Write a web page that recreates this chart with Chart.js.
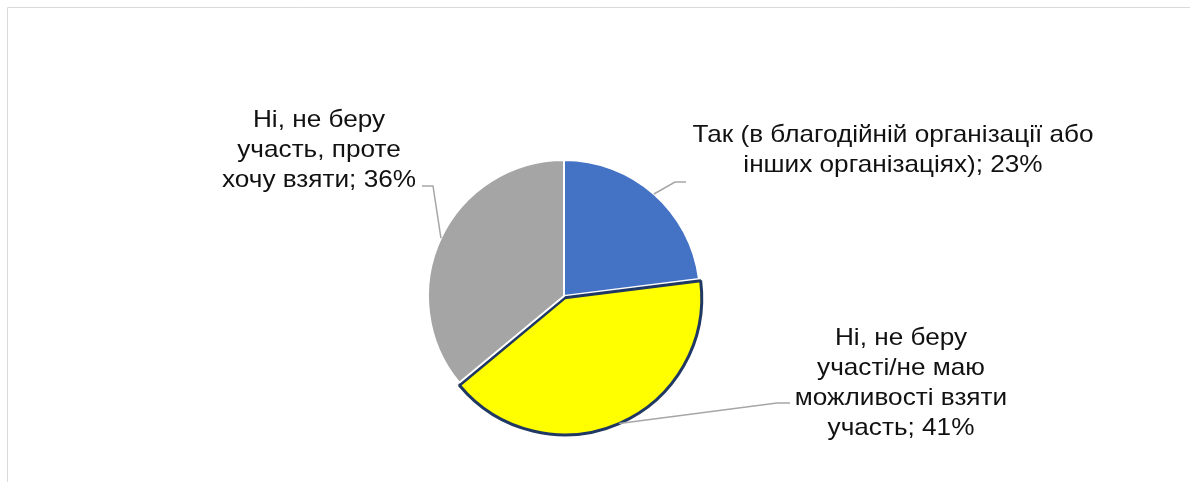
<!DOCTYPE html>
<html>
<head>
<meta charset="utf-8">
<script src="https://cdn.jsdelivr.net/npm/chart.js@4/dist/chart.umd.min.js"></script>
<style>
  html, body { margin: 0; padding: 0; background: #ffffff; }
  #wrap { position: relative; width: 1190px; height: 482px; }
</style>
</head>
<body>
<div id="wrap"><canvas id="chart" width="1190" height="482"></canvas></div>
<script>
// Survey answers: participation in volunteer / charity work
const categories = [
  'Так (в благодійній організації або інших організаціях)',
  'Ні, не беру участі/не маю можливості взяти участь',
  'Ні, не беру участь, проте хочу взяти'
];
const shares = [23, 41, 36];
const sliceColors = ['#4472C4', '#FFFF00', '#A5A5A5'];
const sliceBorders = ['#FFFFFF', '#1F3864', '#FFFFFF'];

const FONT = '24px "Liberation Sans", Arial, sans-serif';
const TEXT_STRETCH = 1.09;   // labels are set slightly wide
const LINE_H = 30;

// Per-slice callout layout, relative to the pie centre:
// elbow / end of the leader line, text centre x, first baseline, wrap width.
const callouts = [
  { elbow: [111, -114], end: [122, -114], tx: 329, ty: -154, wrap: 420 },
  { elbow: [213, 107],  end: [226, 107],  tx: 337, ty: 49,   wrap: 225 },
  { elbow: [-131, -110], end: [-142, -110], tx: -245, ty: -169, wrap: 205 }
];

function wrapText(ctx, text, width) {
  const words = text.split(' ');
  const lines = [];
  let cur = '';
  for (const w of words) {
    const test = cur ? cur + ' ' + w : w;
    if (cur && ctx.measureText(test).width * TEXT_STRETCH > width) {
      lines.push(cur);
      cur = w;
    } else {
      cur = test;
    }
  }
  if (cur) lines.push(cur);
  return lines;
}

const frame = {
  id: 'frame',
  beforeDraw(chart) {
    const ctx = chart.ctx;
    ctx.save();
    ctx.strokeStyle = '#D9D9D9';
    ctx.lineWidth = 1;
    ctx.beginPath();
    ctx.moveTo(7.5, 482);
    ctx.lineTo(7.5, 7.5);
    ctx.lineTo(1190, 7.5);
    ctx.stroke();
    ctx.restore();
  }
};

const calloutLabels = {
  id: 'calloutLabels',
  afterDatasetsDraw(chart) {
    const ctx = chart.ctx;
    const meta = chart.getDatasetMeta(0);
    ctx.save();
    ctx.font = FONT;
    meta.data.forEach((arc, i) => {
      const c = callouts[i];
      const { x, y, startAngle, endAngle, outerRadius } = arc.getProps(['x', 'y', 'startAngle', 'endAngle', 'outerRadius'], true);
      const mid = (startAngle + endAngle) / 2;
      // Exploded slices are shifted along their bisector (same rule Chart.js uses)
      const off = (arc.options.offset || 0) / 4;
      const fix = 1 - Math.sin(Math.min(Math.PI, endAngle - startAngle));
      const shift = off + off * fix;
      const ax = x + Math.cos(mid) * (outerRadius + shift);
      const ay = y + Math.sin(mid) * (outerRadius + shift);

      ctx.strokeStyle = '#A6A6A6';
      ctx.lineWidth = 1.5;
      ctx.beginPath();
      ctx.moveTo(ax, ay);
      ctx.lineTo(x + c.elbow[0], y + c.elbow[1]);
      ctx.lineTo(x + c.end[0], y + c.end[1]);
      ctx.stroke();

      const text = categories[i] + '; ' + shares[i] + '%';
      const lines = wrapText(ctx, text, c.wrap);
      ctx.fillStyle = '#111111';
      ctx.textAlign = 'center';
      ctx.textBaseline = 'alphabetic';
      lines.forEach((ln, k) => {
        ctx.save();
        ctx.translate(x + c.tx, y + c.ty + k * LINE_H);
        ctx.scale(TEXT_STRETCH, 1);
        ctx.fillText(ln, 0, 0);
        ctx.restore();
      });
    });
    ctx.restore();
  }
};

new Chart(document.getElementById('chart'), {
  type: 'pie',
  data: {
    labels: categories,
    datasets: [{
      data: shares,
      backgroundColor: sliceColors,
      borderColor: sliceBorders,
      borderWidth: [2, 3, 2],
      offset: [0, 8, 0],
      radius: 136
    }]
  },
  options: {
    responsive: false,
    animation: false,
    layout: { padding: { left: 0, right: 62, top: 110, bottom: 0 } },
    plugins: {
      legend: { display: false },
      tooltip: { enabled: false }
    }
  },
  plugins: [frame, calloutLabels]
});
</script>
</body>
</html>
